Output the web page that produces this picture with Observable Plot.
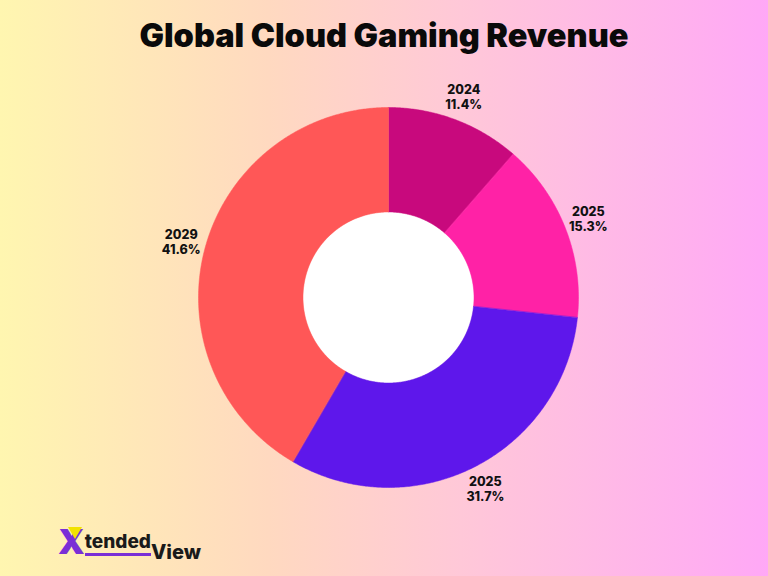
<!DOCTYPE html>
<html>
<head>
<meta charset="utf-8">
<script src="https://cdn.jsdelivr.net/npm/d3@7"></script>
<script src="https://cdn.jsdelivr.net/npm/@observablehq/plot@0.6"></script>
<style>
  html, body { margin: 0; padding: 0; }
  #page {
    position: relative;
    width: 768px;
    height: 576px;
    overflow: hidden;
    background: linear-gradient(to right, #fff6b0 0%, #ffd9c0 35%, #ffc8d8 60%, #ffa8f6 100%);
    font-family: Inter, "Open Sans", sans-serif;
  }
  #title {
    position: absolute;
    left: 0; right: 0; top: 16px;
    text-align: center;
    font-size: 32.5px;
    font-weight: 900;
    color: #0a0a0a;
  }
  #chart { position: absolute; left: 0; top: 0; }
  #logo {
    position: absolute;
    left: 58px; top: 526px;
    font-family: Inter, sans-serif;
    font-weight: 800;
    color: #1a1a1a;
    display: flex;
    align-items: flex-end;
  }
  #logo .x { font-size: 34px; color: #7a2ed6; line-height: 32px; font-weight: 900; position: relative; }
  #logo .x::after { content: ""; position: absolute; left: 10px; top: 1px; border-left: 7px solid transparent; border-right: 7px solid transparent; border-top: 12px solid #f2e200; }
  #logo .t { font-size: 19px; line-height: 22px; border-bottom: 3px solid #7a2ed6; margin-bottom: 2px; }
  #logo .v { font-size: 20px; line-height: 20px; margin-bottom: -4px; }
</style>
</head>
<body>
<div id="page">
  <div id="title">Global Cloud Gaming Revenue</div>
  <div id="chart"></div>
  <div id="logo"><span class="x">X</span><span class="t">tended</span><span class="v">View</span></div>
</div>
<script>
// Revenue share by year, clockwise from 12 o'clock
const years = ["2024", "2025", "2025", "2029"];
const shares = [11.4, 15.3, 31.7, 41.6];
const colors = ["#c8097d", "#ff22a6", "#5e17eb", "#ff5757"];

const innerRatio = 0.45;   // hole radius relative to outer radius
const labelRadius = 1.13;  // label distance relative to outer radius

const total = d3.sum(shares);
const slices = [];
let acc = 0;
shares.forEach((v, i) => {
  const a0 = acc / total * 2 * Math.PI;
  acc += v;
  const a1 = acc / total * 2 * Math.PI;
  slices.push({key: i, year: years[i], value: v, color: colors[i], a0, a1});
});

// Ring polygons in unit coordinates (angle measured clockwise from top)
const ring = [];
for (const s of slices) {
  const n = Math.max(2, Math.ceil((s.a1 - s.a0) / (Math.PI / 360)));
  const outer = d3.range(n + 1).map(k => s.a0 + (s.a1 - s.a0) * k / n);
  for (const a of outer) ring.push({key: s.key, x: Math.sin(a), y: Math.cos(a)});
  for (const a of outer.slice().reverse()) ring.push({key: s.key, x: innerRatio * Math.sin(a), y: innerRatio * Math.cos(a)});
}

// White centre disc
const hole = d3.range(361).map(k => {
  const a = k / 360 * 2 * Math.PI;
  return {x: innerRatio * Math.sin(a), y: innerRatio * Math.cos(a)};
});

const labels = slices.map(s => {
  const m = (s.a0 + s.a1) / 2;
  return {x: labelRadius * Math.sin(m), y: labelRadius * Math.cos(m), text: `${s.year}\n${s.value.toFixed(1)}%`};
});

const chart = Plot.plot({
  width: 768,
  height: 576,
  marginLeft: 198,
  marginRight: 190,
  marginTop: 107,
  marginBottom: 89,
  x: {domain: [-1, 1], axis: null},
  y: {domain: [-1, 1], axis: null},
  style: {background: "transparent", overflow: "visible"},
  marks: [
    Plot.line(hole, {x: "x", y: "y", fill: "#ffffff", stroke: "none", curve: "linear-closed"}),
    Plot.line(ring, {
      x: "x", y: "y", z: "key",
      fill: d => colors[d.key],
      stroke: d => colors[d.key],
      strokeWidth: 0.5,
      curve: "linear-closed"
    }),
    Plot.text(labels, {
      x: "x", y: "y", text: "text",
      fontSize: 12.5,
      fontWeight: 800,
      fill: "#111",
      lineHeight: 1.2,
      fontFamily: "Inter, sans-serif"
    })
  ]
});
document.getElementById("chart").appendChild(chart);
</script>
</body>
</html>
